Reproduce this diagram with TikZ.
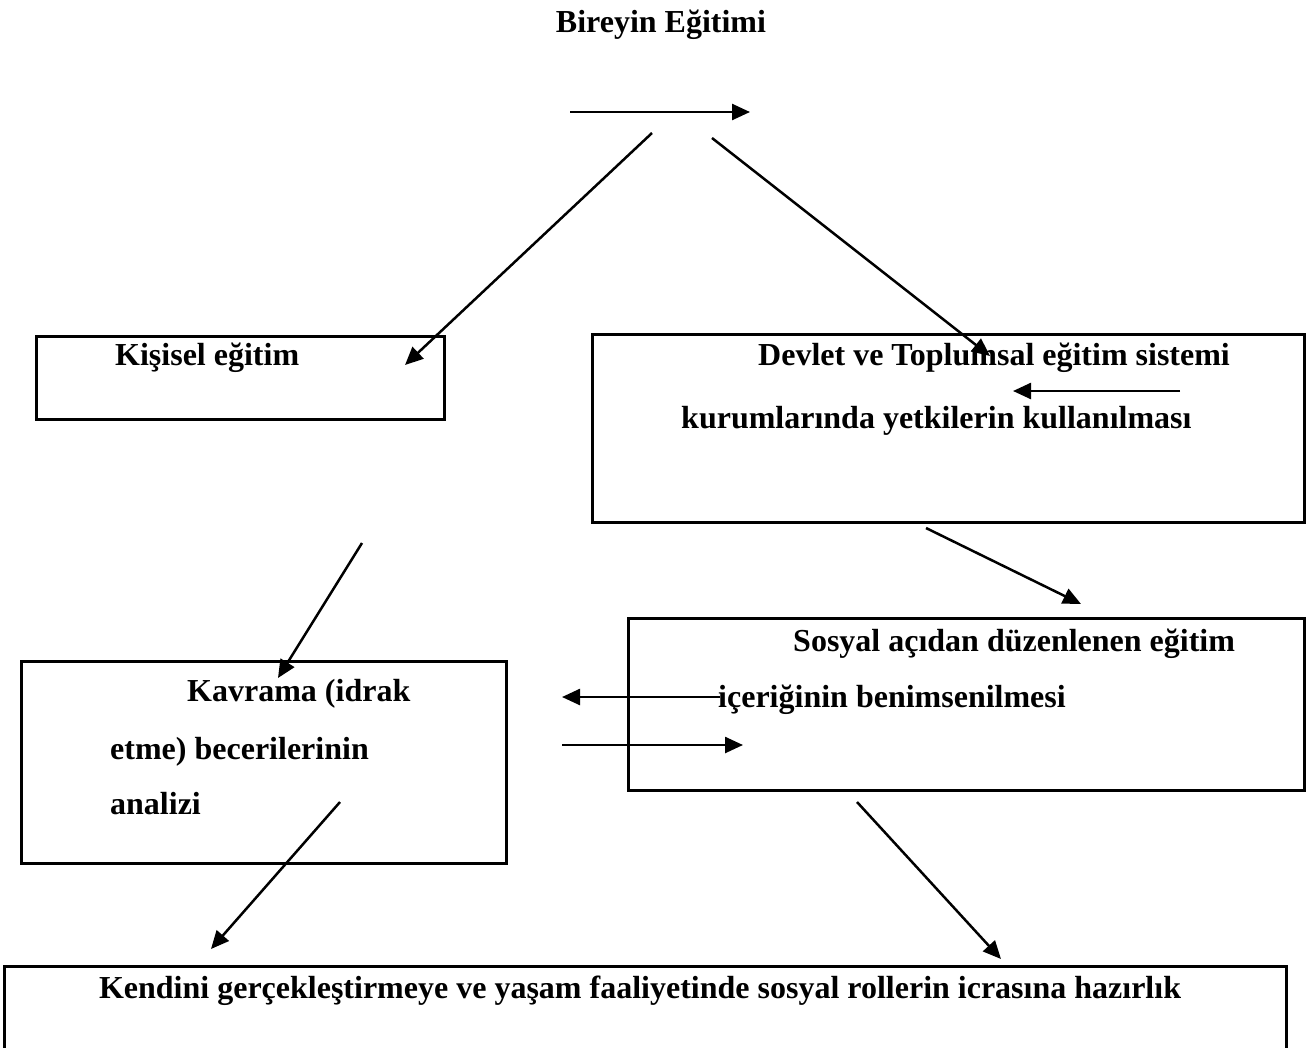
\documentclass[tikz,border=0pt]{standalone}
\usepackage{fontspec}
\setmainfont{Liberation Serif}
\usetikzlibrary{arrows.meta}
\tikzset{
  box/.style={draw, line width=2.8pt, rectangle, inner sep=0pt, anchor=north west},
  lbl/.style={anchor=base west, inner sep=0pt, font=\fontsize{32}{38}\selectfont\bfseries},
  arr/.style={line width=2.5pt, -{Triangle[length=18pt,width=16pt]}}
}
\begin{document}
\begin{tikzpicture}[x=1pt,y=-1pt]
\clip (0,0) rectangle (1308,1047);
\fill[white] (0,0) rectangle (1308,1047);
% boxes
\node[box, minimum width=408pt, minimum height=83pt] (kb) at (35,335) {};
\node[box, minimum width=712pt, minimum height=188pt] (db) at (591,333) {};
\node[box, minimum width=676pt, minimum height=172pt] (sb) at (627,617) {};
\node[box, minimum width=485pt, minimum height=202pt] (vb) at (20,660) {};
\node[box, minimum width=1282pt, minimum height=120pt] (bb) at (3,965) {};
% texts
\node[lbl, anchor=base] (title) at (661,32) {Bireyin Eğitimi};
\node[lbl] (kt) at (115,365) {Kişisel eğitim};
\node[lbl] (dt1) at (758,365) {Devlet ve Toplumsal eğitim sistemi};
\node[lbl] (dt2) at (681,428) {kurumlarında yetkilerin kullanılması};
\node[lbl] (st1) at (793,651) {Sosyal açıdan düzenlenen eğitim};
\node[lbl] (st2) at (718,707) {içeriğinin benimsenilmesi};
\node[lbl] (vt1) at (187,701) {Kavrama (idrak};
\node[lbl] (vt2) at (110,759) {etme) becerilerinin};
\node[lbl] (vt3) at (110,814) {analizi};
\node[lbl, anchor=base] (bt) at (640,998) {Kendini gerçekleştirmeye ve yaşam faaliyetinde sosyal rollerin icrasına hazırlık};
% arrow end points
\coordinate (a1s) at (570,112); \coordinate (a1e) at (750,112);
\coordinate (a2s) at (652,133); \coordinate (a2e) at (405,365);
\coordinate (a3s) at (712,138); \coordinate (a3e) at (990,356);
\coordinate (a4s) at (1180,391); \coordinate (a4e) at (1013,391);
\coordinate (a5s) at (926,528); \coordinate (a5e) at (1081,604);
\coordinate (a6s) at (362,543); \coordinate (a6e) at (278,678);
\coordinate (a7s) at (720,697); \coordinate (a7e) at (562,697);
\coordinate (a8s) at (562,745); \coordinate (a8e) at (743,745);
\coordinate (a9s) at (340,802); \coordinate (a9e) at (211,949);
\coordinate (a10s) at (857,802); \coordinate (a10e) at (1001,959);
\draw[arr] (a1s) -- (a1e);
\draw[arr] (a2s) -- (a2e);
\draw[arr] (a3s) -- (a3e);
\draw[arr] (a4s) -- (a4e);
\draw[arr] (a5s) -- (a5e);
\draw[arr] (a6s) -- (a6e);
\draw[arr] (a7s) -- (a7e);
\draw[arr] (a8s) -- (a8e);
\draw[arr] (a9s) -- (a9e);
\draw[arr] (a10s) -- (a10e);
\end{tikzpicture}
\end{document}
